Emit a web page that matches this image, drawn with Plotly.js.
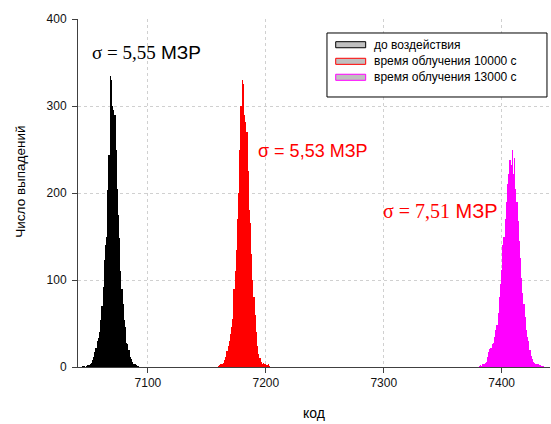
<!DOCTYPE html>
<html>
<head>
<meta charset="utf-8">
<script src="https://cdn.plot.ly/plotly-3.0.1.min.js"></script>
<style>html,body{margin:0;padding:0;background:#fff;}#chart{width:551px;height:424px;}</style>
</head>
<body>
<div id="chart"></div>
<script>
// Histogram bins (code) and counts
var blackCodes = [7045,7046,7047,7048,7049,7050,7051,7052,7053,7054,7055,7056,7057,7058,7059,7060,7061,7062,7063,7064,7065,7066,7067,7068,7069,7070,7071,7072,7073,7074,7075,7076,7077,7078,7079,7080,7081,7082,7083,7084,7085,7086,7087,7088,7089,7090,7091,7092];
var blackCounts = [1,1,0,1,2,2,3,5,8,12,17,22,30,33,40,54,70,92,123,140,150,203,244,335,330,300,295,290,250,205,175,148,110,90,72,54,46,28,26,20,12,9,6,4,3,2,1,1];

var redCodes = [7160,7161,7162,7163,7164,7165,7166,7167,7168,7169,7170,7171,7172,7173,7174,7175,7176,7177,7178,7179,7180,7181,7182,7183,7184,7185,7186,7187,7188,7189,7190,7191,7192,7193,7194,7195,7196,7197,7198,7199,7200,7201,7202,7203];
var redCounts = [1,2,3,4,5,8,12,18,24,30,38,46,55,90,110,135,170,200,250,300,330,325,290,282,270,225,180,165,130,100,80,60,40,24,15,10,6,4,5,3,4,2,3,1];

var magentaCodes = [7381,7382,7383,7384,7385,7386,7387,7388,7389,7390,7391,7392,7393,7394,7395,7396,7397,7398,7399,7400,7401,7402,7403,7404,7405,7406,7407,7408,7409,7410,7411,7412,7413,7414,7415,7416,7417,7418,7419,7420,7421,7422,7423,7424,7425,7426,7427,7428,7429,7430,7431,7432,7433,7434,7435];
var magentaCounts = [1,2,1,3,4,5,6,12,17,21,22,27,28,35,42,48,62,80,95,112,140,150,170,190,210,222,238,232,250,222,240,205,190,168,145,125,102,85,72,58,42,35,30,20,13,9,6,5,4,3,3,2,2,1,1];

var seriesNames = ['до воздействия', 'время облучения 10000 с', 'время облучения 13000 с'];
var seriesColors = ['#000000', '#ff0000', '#ff00ff'];
var sigmaLabels = ['5,55', '5,53', '7,51'];

var xTicks = [7100, 7200, 7300, 7400];
var yTicks = [0, 100, 200, 300, 400];

var sans = 'Liberation Sans, Arial, sans-serif';
var serif = 'Liberation Serif, Times New Roman, serif';

function barTrace(x, y, i) {
  return {
    type: 'bar', x: x, y: y, width: 1, name: seriesNames[i],
    marker: {color: seriesColors[i], line: {width: 0}},
    showlegend: false, hoverinfo: 'x+y'
  };
}

var data = [
  barTrace(blackCodes, blackCounts, 0),
  barTrace(redCodes, redCounts, 1),
  barTrace(magentaCodes, magentaCounts, 2)
];

// custom legend (gray swatches with coloured outlines)
var shapes = [{
  type: 'rect', xref: 'paper', yref: 'paper', x0: 0.5275, x1: 0.9936, y0: 0.7759, y1: 0.9598,
  line: {color: '#000', width: 1}, fillcolor: '#fff', layer: 'above'
}];
var annotations = [];
var rowY = [0.9261, 0.8784, 0.8325];
for (var i = 0; i < 3; i++) {
  shapes.push({
    type: 'rect', xref: 'paper', yref: 'paper', x0: 0.546, x1: 0.6095,
    y0: rowY[i] - 0.0087, y1: rowY[i] + 0.0087,
    line: {color: seriesColors[i], width: 1}, fillcolor: '#c0c0c0', layer: 'above'
  });
  annotations.push({
    xref: 'paper', yref: 'paper', x: 0.6222, y: rowY[i], xanchor: 'left', yanchor: 'middle',
    text: seriesNames[i], showarrow: false, font: {family: sans, size: 12, color: '#000'}
  });
}

// sigma labels
annotations.push({
  x: 7050.9, y: 361, xanchor: 'left', yanchor: 'middle', showarrow: false,
  text: '<span style="font-family:' + serif + '">σ = ' + sigmaLabels[0] + '</span> МЗР',
  font: {family: sans, size: 19, color: '#000'}
});
annotations.push({
  x: 7191.5, y: 248.6, xanchor: 'left', yanchor: 'middle', showarrow: false,
  text: 'σ = ' + sigmaLabels[1] + ' МЗР',
  font: {family: sans, size: 18, color: '#ff0000'}
});
annotations.push({
  x: 7297.5, y: 179.7, xanchor: 'left', yanchor: 'middle', showarrow: false,
  text: '<span style="font-family:' + serif + '">σ = ' + sigmaLabels[2] + '</span> МЗР',
  font: {family: sans, size: 20, color: '#ff0000'}
});

// y axis title placed like the reference (slightly above the plot centre)
annotations.push({
  xref: 'paper', yref: 'paper', x: -0.1208, y: 0.5325, xanchor: 'center', yanchor: 'middle',
  textangle: -90, showarrow: false, text: 'Число выпадений',
  font: {family: sans, size: 13.5, color: '#000'}
});

var layout = {
  width: 551, height: 424,
  margin: {l: 78, r: 1, t: 19, b: 57, pad: 0},
  paper_bgcolor: '#fff', plot_bgcolor: '#fff',
  bargap: 0, barmode: 'overlay', showlegend: false,
  font: {family: sans, color: '#000'},
  xaxis: {
    range: [7040.7, 7441], tickvals: xTicks, ticktext: xTicks.map(String),
    showline: true, linecolor: '#404040', linewidth: 1,
    ticks: 'outside', ticklen: 5, tickcolor: '#404040', tickwidth: 1,
    showgrid: true, gridcolor: '#d0d0d0', griddash: 'dot', gridwidth: 1,
    zeroline: false, tickfont: {family: sans, size: 12, color: '#111'},
    title: {text: 'код', font: {family: sans, size: 14, color: '#000'}, standoff: 18}
  },
  yaxis: {
    range: [0, 400], tickvals: yTicks, ticktext: yTicks.map(String),
    showline: true, linecolor: '#404040', linewidth: 1,
    ticks: 'outside', ticklen: 5, tickcolor: '#404040', tickwidth: 1,
    showgrid: true, gridcolor: '#d0d0d0', griddash: 'dot', gridwidth: 1,
    zeroline: false, tickfont: {family: sans, size: 12, color: '#111'},
    ticklabelstandoff: 3
  },
  shapes: shapes,
  annotations: annotations
};

Plotly.newPlot('chart', data, layout, {staticPlot: true, displayModeBar: false});
</script>
</body>
</html>
